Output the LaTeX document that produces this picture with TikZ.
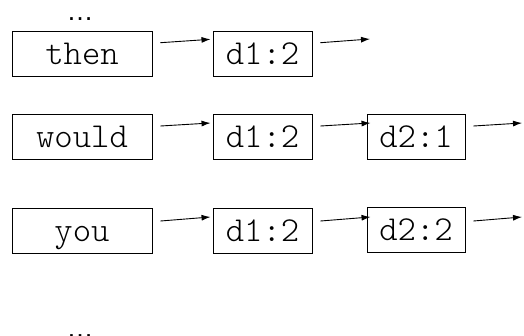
\documentclass[tikz,border=0pt]{standalone}
\usepackage{fontspec}
\setmonofont{Latin Modern Mono Light}
\newfontfamily\dotsfont{Liberation Sans}
\usetikzlibrary{arrows.meta}
\begin{document}
\begin{tikzpicture}[x=1pt,y=1pt,
  cell/.style={draw, line width=0.9pt, inner sep=0pt, minimum height=45pt,
    text height=21pt, text depth=0pt,
    font=\ttfamily\fontsize{35}{36}\selectfont},
  wordbox/.style={cell, minimum width=140pt},
  dbox/.style={cell, minimum width=99pt},
  arr/.style={-{Latex[length=9pt,width=6pt]}, line width=0.9pt},
  dotsnode/.style={inner sep=0pt, anchor=base, font=\dotsfont\fontsize{27}{28}\selectfont}]
\useasboundingbox (0,0) rectangle (524,-335);
\fill[white] (0,0) rectangle (524,-335);
% row 1
\node[wordbox] (then) at (82,-53.5) {then};
\node[dbox] (r1d1) at (262.5,-53.5) {d1:2};
\coordinate (r1end) at (370,-39);
% row 2
\node[wordbox] (would) at (82,-137) {would};
\node[dbox] (r2d1) at (262.5,-137) {d1:2};
\node[dbox, minimum width=98pt] (r2d2) at (416,-136.5) {d2:1};
\coordinate (r2end) at (522,-123);
% row 3
\node[wordbox] (you) at (82,-231) {you};
\node[dbox] (r3d1) at (262.5,-231) {d1:2};
\node[dbox, minimum width=98pt] (r3d2) at (416,-229.5) {d2:2};
\coordinate (r3end) at (522,-217);
% dots
\node[dotsnode] (topdots) at (80,-20) {…};
\node[dotsnode] (botdots) at (80,-337) {…};
% arrows
\draw[arr] ([xshift=8pt,yshift=10.8pt]then.east) -- ([xshift=-2pt,yshift=14.2pt]r1d1.west);
\draw[arr] ([xshift=8pt,yshift=10.8pt]r1d1.east) -- (r1end);
\draw[arr] ([xshift=8pt,yshift=11pt]would.east) -- ([xshift=-2pt,yshift=14pt]r2d1.west);
\draw[arr] ([xshift=8pt,yshift=11pt]r2d1.east) -- ([xshift=4pt,yshift=13.5pt]r2d2.west);
\draw[arr] ([xshift=8pt,yshift=10.5pt]r2d2.east) -- (r2end);
\draw[arr] ([xshift=8pt,yshift=10pt]you.east) -- ([xshift=-2pt,yshift=14pt]r3d1.west);
\draw[arr] ([xshift=8pt,yshift=10pt]r3d1.east) -- ([xshift=4pt,yshift=12.5pt]r3d2.west);
\draw[arr] ([xshift=8pt,yshift=8.5pt]r3d2.east) -- (r3end);
\end{tikzpicture}
\end{document}
